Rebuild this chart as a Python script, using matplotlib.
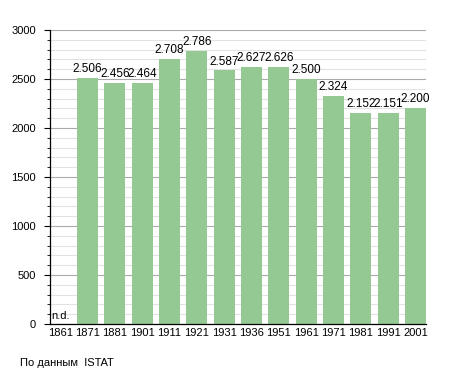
import matplotlib.pyplot as plt
from matplotlib.ticker import MultipleLocator

plt.rcParams['font.family'] = ['Liberation Sans', 'DejaVu Sans']

# Census years and population (1861: no data)
years = ['1861', '1871', '1881', '1901', '1911', '1921', '1931',
         '1936', '1951', '1961', '1971', '1981', '1991', '2001']
population = [None, 2506, 2456, 2464, 2708, 2786, 2587,
              2627, 2626, 2500, 2324, 2152, 2151, 2200]
labels = ['n.d.', '2.506', '2.456', '2.464', '2.708', '2.786', '2.587',
          '2.627', '2.626', '2.500', '2.324', '2.152', '2.151', '2.200']

fig = plt.figure(figsize=(4.55, 3.73), dpi=100)
ax = fig.add_axes([50 / 455, 49 / 373, 376 / 455, 294 / 373])

x = list(range(len(years)))
heights = [0 if v is None else v for v in population]
ax.bar(x, heights, width=0.77, color='#94c994', zorder=2)

for i, v in enumerate(population):
    if v is None:
        ax.text(i - 0.33, 35, labels[i], fontsize=8, ha='left', va='bottom', zorder=3)
    else:
        ax.text(i, v + 30, labels[i], fontsize=8.5, ha='center', va='bottom', zorder=3)

ax.set_xlim(-0.37, 13.385)
ax.set_ylim(0, 3000)
ax.set_xticks(x)
ax.set_xticklabels(years, fontsize=8)
ax.tick_params(axis='x', length=0, pad=3)

ax.yaxis.set_major_locator(MultipleLocator(500))
ax.yaxis.set_minor_locator(MultipleLocator(100))
ax.tick_params(axis='y', which='major', length=4, width=0.8, labelsize=8, pad=6)
ax.tick_params(axis='y', which='minor', length=2.5, width=0.6)
ax.grid(axis='y', which='major', color='#aaaaaa', linewidth=0.8, zorder=1)
ax.grid(axis='y', which='minor', color='#e2e2e2', linewidth=0.8, zorder=1)
ax.set_axisbelow(True)

for s in ['top', 'right']:
    ax.spines[s].set_visible(False)
ax.spines['left'].set_linewidth(0.9)
ax.spines['bottom'].set_linewidth(0.9)

fig.text(20 / 455, 1 - 363 / 373, 'По данным  ISTAT', fontsize=8, va='center', ha='left')

fig.savefig('out.png', dpi=100)
